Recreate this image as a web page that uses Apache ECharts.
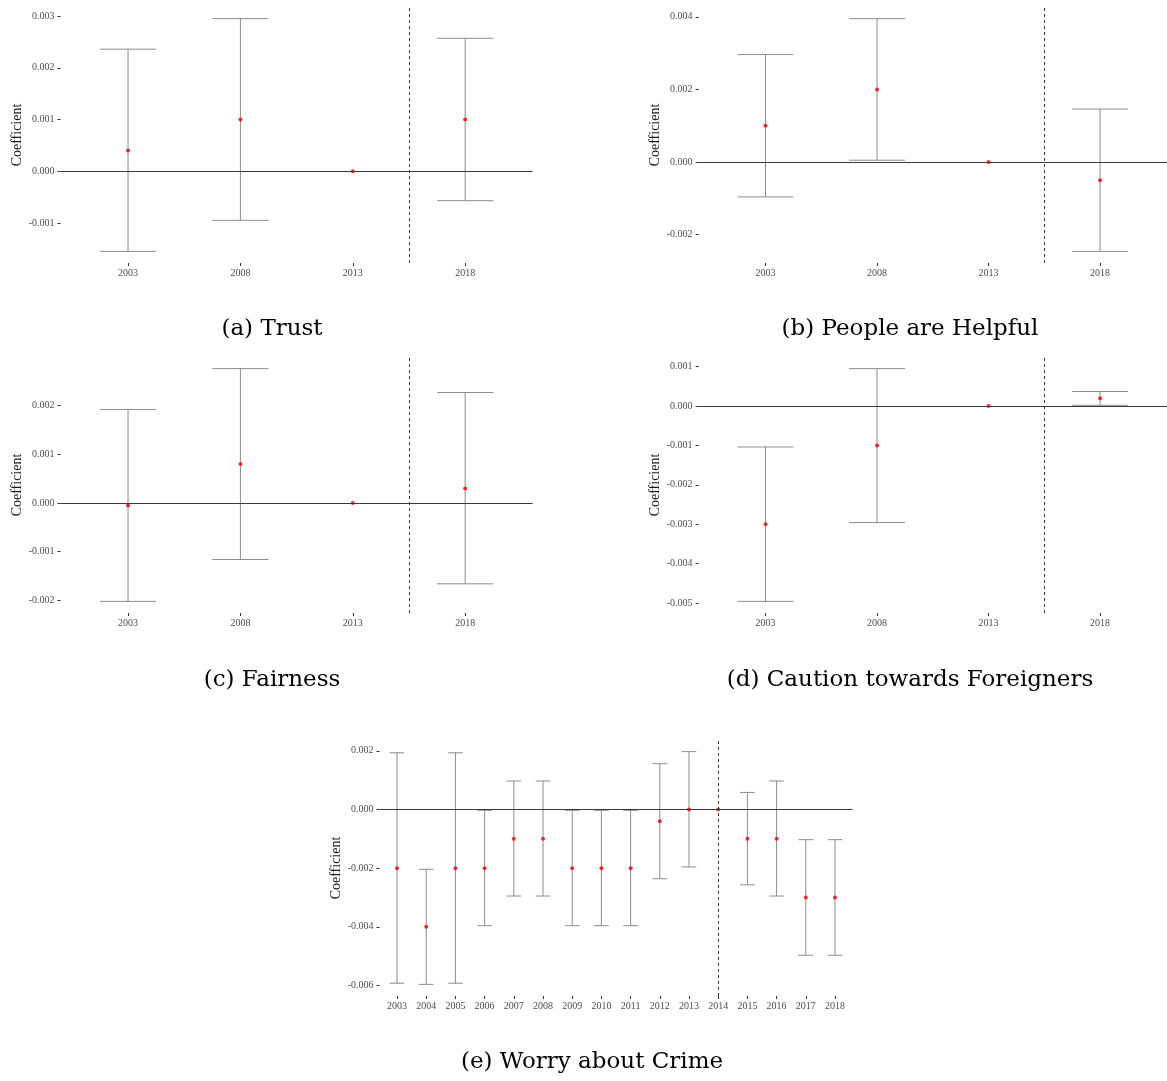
<!DOCTYPE html>
<html>
<head>
<meta charset="utf-8">
<script src="https://cdn.jsdelivr.net/npm/echarts@6/dist/echarts.min.js"></script>
<style>
html,body{margin:0;padding:0;background:#fff;}
#chart{width:1167px;height:1081px;}
</style>
</head>
<body>
<div id="chart"></div>
<script>
// ---------- Data ----------
const yearsShort = ['2003', '2008', '2013', '2018'];
const yearsLong = ['2003','2004','2005','2006','2007','2008','2009','2010','2011','2012','2013','2014','2015','2016','2017','2018'];

const trustCoef = [0.0004, 0.001, 0, 0.001];
const trustLow  = [-0.00155, -0.00095, 0, -0.00057];
const trustHigh = [0.00236, 0.00295, 0, 0.00257];
const trustTicks = [-0.001, 0, 0.001, 0.002, 0.003];

const helpCoef = [0.001, 0.002, 0, -0.0005];
const helpLow  = [-0.00096, 0.00005, 0, -0.00246];
const helpHigh = [0.00296, 0.00395, 0, 0.00146];
const helpTicks = [-0.002, 0, 0.002, 0.004];

const fairCoef = [-0.00005, 0.0008, 0, 0.0003];
const fairLow  = [-0.00202, -0.00116, 0, -0.00166];
const fairHigh = [0.00192, 0.00276, 0, 0.00227];
const fairTicks = [-0.002, -0.001, 0, 0.001, 0.002];

const cautionCoef = [-0.003, -0.001, 0, 0.0002];
const cautionLow  = [-0.00496, -0.00296, 0, 0.00002];
const cautionHigh = [-0.00104, 0.00095, 0, 0.00037];
const cautionTicks = [-0.005, -0.004, -0.003, -0.002, -0.001, 0, 0.001];

const crimeCoef = [-0.002, -0.004, -0.002, -0.002, -0.001, -0.001, -0.002, -0.002, -0.002, -0.0004, 0, 0, -0.001, -0.001, -0.003, -0.003];
const crimeLow  = [-0.00592, -0.00596, -0.00592, -0.00396, -0.00295, -0.00295, -0.00396, -0.00396, -0.00396, -0.00236, -0.00196, 0, -0.00257, -0.00295, -0.00497, -0.00497];
const crimeHigh = [0.00193, -0.00204, 0.00193, -0.00003, 0.00097, 0.00097, -0.00003, -0.00003, -0.00003, 0.00156, 0.00197, 0, 0.00058, 0.00097, -0.00103, -0.00103];
const crimeTicks = [-0.006, -0.004, -0.002, 0, 0.002];

// reference line position (category index, between/at years)
const breakShort = 2.5;   // between 2013 and 2018
const breakLong = 11;     // 2014

const captions = ['(a) Trust', '(b) People are Helpful', '(c) Fairness', '(d) Caution towards Foreigners', '(e) Worry about Crime'];

// ---------- Layout ----------
const panels = [
  {cats: yearsShort, coef: trustCoef, low: trustLow, high: trustHigh, ticks: trustTicks, brk: breakShort, grid: {left: 60.6, top: 7, width: 472, height: 256}, cap: [272, 329]},
  {cats: yearsShort, coef: helpCoef, low: helpLow, high: helpHigh, ticks: helpTicks, brk: breakShort, grid: {left: 698.6, top: 7, width: 472, height: 256}, cap: [910, 329]},
  {cats: yearsShort, coef: fairCoef, low: fairLow, high: fairHigh, ticks: fairTicks, brk: breakShort, grid: {left: 60.6, top: 357, width: 472, height: 256}, cap: [272, 680]},
  {cats: yearsShort, coef: cautionCoef, low: cautionLow, high: cautionHigh, ticks: cautionTicks, brk: breakShort, grid: {left: 698.6, top: 357, width: 472, height: 256}, cap: [910, 680]},
  {cats: yearsLong, coef: crimeCoef, low: crimeLow, high: crimeHigh, ticks: crimeTicks, brk: breakLong, grid: {left: 379.5, top: 740, width: 473, height: 256}, cap: [592, 1062]}
];

const SERIF = "'Liberation Serif', 'DejaVu Serif', serif";
const grids = [], xAxes = [], yAxes = [], series = [], graphics = [];

panels.forEach((p, k) => {
  grids.push(Object.assign({}, p.grid));
  const n = p.cats.length;
  const idx = p.cats.map((_, i) => i);
  const all = p.coef.concat(p.low, p.high);
  const dmin = Math.min(...all), dmax = Math.max(...all);
  const r = dmax - dmin;
  xAxes.push({
    type: 'value', gridIndex: k, position: 'bottom', min: -0.6, max: n - 1 + 0.6,
    axisLine: {show: false, onZero: false}, splitLine: {show: false},
    axisTick: {show: true, length: 3, customValues: idx, lineStyle: {color: '#333', width: 1}},
    axisLabel: {customValues: idx, margin: 5, fontSize: 10, fontFamily: SERIF, color: '#4d4d4d',
      formatter: v => p.cats[Math.round(v)]}
  });
  yAxes.push({
    type: 'value', gridIndex: k, position: 'left', min: dmin - 0.05 * r, max: dmax + 0.05 * r,
    name: 'Coefficient', nameLocation: 'middle', nameGap: 36,
    nameTextStyle: {fontSize: 14, fontFamily: SERIF, color: '#1a1a1a'},
    axisLine: {show: false, onZero: false}, splitLine: {show: false},
    axisTick: {show: true, length: 3, customValues: p.ticks, lineStyle: {color: '#333', width: 1}},
    axisLabel: {customValues: p.ticks, margin: 6, fontSize: 10, fontFamily: SERIF, color: '#4d4d4d',
      formatter: v => v.toFixed(3)}
  });
  series.push({
    type: 'custom', xAxisIndex: k, yAxisIndex: k, z: 2, silent: true,
    data: idx.map(i => [i, p.low[i], p.high[i]]),
    encode: {x: 0, y: [1, 2]},
    renderItem: function (params, api) {
      const x = api.value(0), lo = api.value(1), hi = api.value(2);
      if (lo === hi) return null;
      const t = api.coord([x, hi]), b = api.coord([x, lo]);
      const half = api.size([0.25, 0])[0];
      const st = {stroke: '#8c8c8c', lineWidth: 1};
      return {type: 'group', children: [
        {type: 'line', shape: {x1: t[0], y1: t[1], x2: b[0], y2: b[1]}, style: st},
        {type: 'line', shape: {x1: t[0] - half, y1: t[1], x2: t[0] + half, y2: t[1]}, style: st},
        {type: 'line', shape: {x1: b[0] - half, y1: b[1], x2: b[0] + half, y2: b[1]}, style: st}
      ]};
    },
    markLine: {
      silent: true, symbol: 'none', animation: false, label: {show: false},
      data: [
        {yAxis: 0, lineStyle: {color: '#3a3a3a', width: 1, type: 'solid'}},
        {xAxis: p.brk, lineStyle: {color: '#3a3a3a', width: 1, type: [3, 3]}}
      ]
    }
  });
  series.push({
    type: 'scatter', xAxisIndex: k, yAxisIndex: k, z: 3, silent: true,
    symbol: 'circle', symbolSize: 4,
    itemStyle: {color: '#f00000'},
    data: idx.map(i => [i, p.coef[i]])
  });
  graphics.push({
    type: 'text', x: p.cap[0], y: p.cap[1],
    style: {text: captions[k], font: "23px 'DejaVu Serif', serif", fill: '#000', align: 'center', verticalAlign: 'middle'}
  });
});

const chart = echarts.init(document.getElementById('chart'), null, {renderer: 'canvas'});
chart.setOption({
  backgroundColor: '#ffffff',
  animation: false,
  grid: grids,
  xAxis: xAxes,
  yAxis: yAxes,
  series: series,
  graphic: graphics
});
</script>
</body>
</html>
